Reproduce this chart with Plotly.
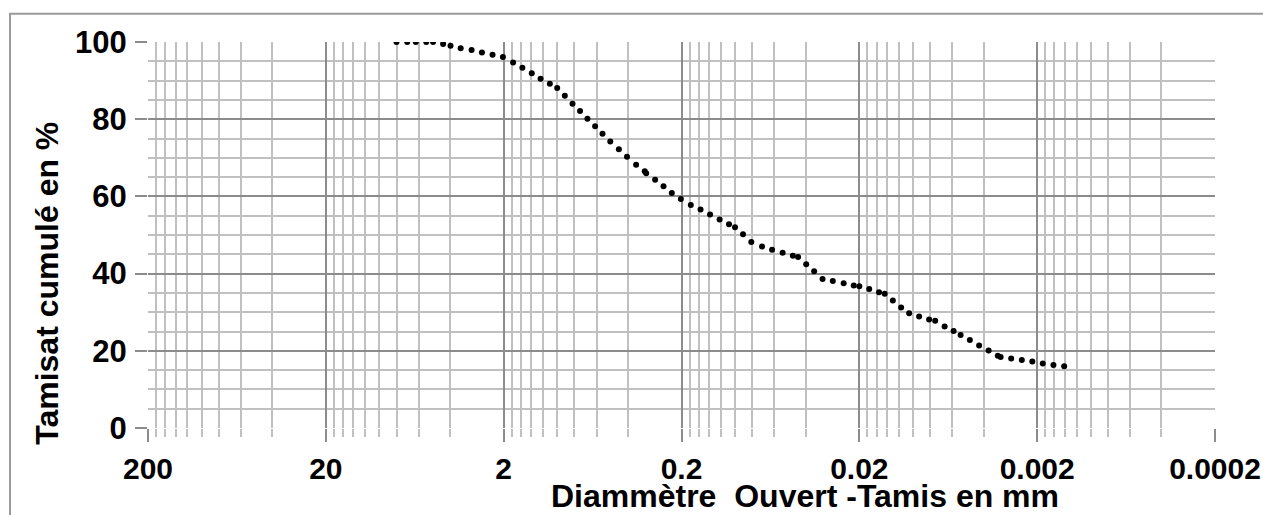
import plotly.graph_objects as go

# ---- data ----
diam_mm = [8.01, 6.97, 6.24, 5.45, 4.99, 4.38, 3.98, 3.49, 3.03, 2.65, 2.31, 2.02,
           1.77, 1.57, 1.39, 1.24, 1.10, 1.00, 0.906, 0.820, 0.744, 0.676, 0.612,
           0.556, 0.503, 0.450, 0.405, 0.360, 0.322, 0.316, 0.2815, 0.2524, 0.2267,
           0.2017, 0.1773, 0.1563, 0.1382, 0.1221, 0.1081, 0.1000, 0.0902, 0.0810,
           0.0705, 0.0619, 0.0540, 0.0473, 0.0442, 0.0398, 0.0359, 0.0322, 0.0282,
           0.0245, 0.0215, 0.0200, 0.0176, 0.0155, 0.0144, 0.01296, 0.01164, 0.01049,
           0.00922, 0.00810, 0.00749, 0.00663, 0.00590, 0.00539, 0.00478, 0.00424,
           0.00375, 0.00333, 0.00321, 0.00280, 0.00244, 0.00213, 0.00186, 0.00162,
           0.00141]
tamisat_pct = [100, 100, 100, 100, 100, 99.5, 99.0, 98.4, 97.9, 97.3, 96.7, 96.1,
               94.7, 93.3, 91.9, 90.5, 89.2, 88.1, 86.1, 84.0, 82.1, 80.1, 78.2,
               76.2, 74.2, 72.2, 70.3, 68.2, 66.5, 66.0, 64.3, 62.6, 60.9,
               59.3, 57.8, 56.6, 55.3, 54.0, 52.8, 52.0, 50.2, 48.2,
               47.0, 46.2, 45.4, 44.6, 44.3, 42.4, 40.6, 38.6, 38.1,
               37.5, 36.9, 36.7, 36.0, 35.2, 34.8, 33.0, 31.2, 29.7,
               28.9, 28.1, 27.8, 26.3, 25.1, 24.1, 22.8, 21.4,
               20.1, 18.7, 18.4, 18.0, 17.6, 17.2, 16.7, 16.3,
               16.0]

x_tick_vals = [200, 20, 2, 0.2, 0.02, 0.002, 0.0002]
x_tick_text = ["200", "20", "2", "0.2", "0.02", "0.002", "0.0002"]
x_minor_mult = [4, 6, 8, 10, 12, 14, 16, 18]
x_minor_decades = [10, 1, 0.1, 0.01, 0.001, 0.0001]
y_tick_vals = [0, 20, 40, 60, 80, 100]

x_minor_vals = [m * d for d in x_minor_decades for m in x_minor_mult]

FONT = "Liberation Sans, Arial, sans-serif"
MAJOR = "#8c8c8c"
MINOR = "#c0c0c0"

fig = go.Figure()
fig.add_trace(go.Scatter(
    x=diam_mm, y=tamisat_pct, mode="markers",
    marker=dict(color="black", size=6),
    showlegend=False, hoverinfo="x+y"))

fig.update_layout(
    width=1263, height=515,
    margin=dict(l=148, r=48, t=42, b=87, autoexpand=False),
    paper_bgcolor="white", plot_bgcolor="white",
    font=dict(family=FONT, color="black"),
    xaxis=dict(
        type="log", range=[2.30103, -3.69897], autorange=False,
        automargin=False,
        tickmode="array", tickvals=x_tick_vals, ticktext=x_tick_text,
        tickfont=dict(family=FONT, size=30, color="black", weight="bold"),
        ticks="outside", ticklen=13, tickwidth=1.8, tickcolor=MAJOR,
        ticklabelstandoff=1,
        showgrid=True, gridcolor=MAJOR, gridwidth=1.8,
        showline=False, zeroline=False,
        minor=dict(tickmode="array", tickvals=x_minor_vals,
                   showgrid=True, gridcolor=MINOR, gridwidth=1.8,
                   ticks="outside", ticklen=8, tickwidth=1.8, tickcolor=MINOR),
    ),
    yaxis=dict(
        range=[0, 100], autorange=False,
        automargin=False,
        tickmode="array", tickvals=y_tick_vals,
        tickfont=dict(family=FONT, size=31, color="black", weight="bold"),
        ticks="outside", ticklen=12, tickwidth=1.8, tickcolor=MAJOR,
        ticklabelstandoff=2,
        showgrid=True, gridcolor=MAJOR, gridwidth=1.8,
        showline=False, zeroline=False,
        minor=dict(dtick=5, tick0=0, showgrid=True, gridcolor=MINOR,
                   gridwidth=1.8, ticks=""),
    ),
    annotations=[
        dict(text="Diammètre\u00a0 Ouvert -Tamis en mm", xref="paper", yref="paper",
             x=0.6157, y=-0.176, xanchor="center", yanchor="middle", showarrow=False,
             font=dict(family=FONT, size=32, color="black", weight="bold")),
        dict(text="Tamisat cumulé en %", xref="paper", yref="paper",
             x=-0.0942, y=0.375, xanchor="center", yanchor="middle", showarrow=False,
             textangle=-90,
             font=dict(family=FONT, size=32, color="black", weight="bold")),
    ],
    shapes=[
        dict(type="rect", xref="paper", yref="paper",
             x0=-0.1293, x1=1.3, y0=-0.5, y1=1.0733,
             line=dict(color="#9a9a9a", width=2), layer="below"),
    ],
)

fig.write_html("out.html")
